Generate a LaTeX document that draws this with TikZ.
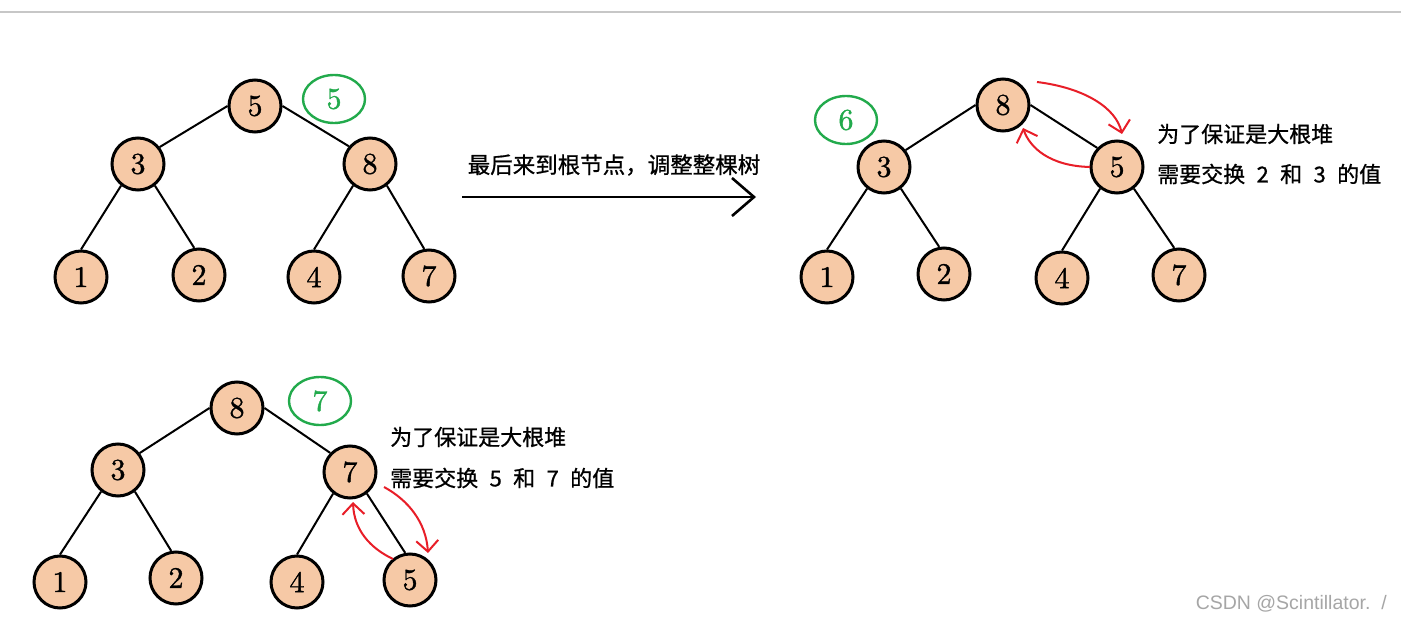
\documentclass[tikz,border=0pt]{standalone}
\usepackage{fontspec}
\newfontfamily\cjk[FakeBold=0.8]{Noto Sans CJK SC}
\newfontfamily\numfont[FakeBold=1.2]{lmroman10-regular.otf}
\newfontfamily\wmfont{Liberation Sans}
\usetikzlibrary{arrows.meta,shapes.geometric}
\definecolor{peach}{RGB}{246,201,166}
\definecolor{hgreen}{RGB}{34,170,76}
\definecolor{hred}{RGB}{232,30,40}
\newcommand\gapsp{\hspace{12pt}}
\newcommand\dg[1]{\makebox[11pt]{#1}}
\begin{document}
\begin{tikzpicture}[x=1pt,y=-1pt,
  hn/.style={circle,draw=black,line width=3pt,fill=peach,minimum size=52pt,inner sep=0pt,font=\numfont\fontsize{30}{32}\selectfont},
  gn/.style={ellipse,draw=hgreen,line width=2.4pt,minimum width=62pt,minimum height=48pt,inner sep=0pt,text=hgreen,font=\numfont\fontsize{30}{32}\selectfont},
  edge/.style={line width=2pt},
  swap/.style={hred,line width=2pt,-{Straight Barb[length=11pt,width=22pt]}},
  note/.style={anchor=west,font=\cjk\fontsize{22}{24}\selectfont,inner sep=0pt},
  bigarrow/.style={line width=2.6pt,-{Straight Barb[length=22pt,width=38pt]}},
]
\useasboundingbox (0,0) rectangle (1401,623);
\fill[white] (0,0) rectangle (1401,623);
\draw[black!22,line width=2.5pt] (0,12) -- (1401,12);

% ---------- tree A (top left)
\node[hn] (a5) at (255,106) {5};
\node[hn] (a3) at (138,164) {3};
\node[hn] (a8) at (370,164) {8};
\node[hn] (a1) at (81,277) {1};
\node[hn] (a2) at (199,275) {2};
\node[hn] (a4) at (314,277) {4};
\node[hn] (a7) at (429,276) {7};
\node[gn] (ag) at (334,99) {5};
\draw[edge] (a5.180) -- (a3.38);
\draw[edge] (a5.0) -- (a8.140);
\draw[edge] (a3.232) -- (a1.north);
\draw[edge] (a3.308) -- (a2.100);
\draw[edge] (a8.232) -- (a4.north);
\draw[edge] (a8.308) -- (a7.100);

% ---------- middle arrow
\node[font=\cjk\fontsize{22.5}{24}\selectfont,inner sep=0pt] (lbl) at (614,165) {最后来到根节点，调整整棵树};
\coordinate (arrS) at (462,197);
\coordinate (arrE) at (756,197);
\draw[bigarrow] (arrS) -- (arrE);

% ---------- tree B (top right)
\node[hn] (b8) at (1003,105) {8};
\node[hn] (b3) at (884,167) {3};
\node[hn] (b5) at (1117,167) {5};
\node[hn] (b1) at (827,277) {1};
\node[hn] (b2) at (944,274) {2};
\node[hn] (b4) at (1062,278) {4};
\node[hn] (b7) at (1179,275) {7};
\node[gn] (bg) at (846,120) {6};
\draw[edge] (b8.180) -- (b3.38);
\draw[edge] (b8.0) -- (b5.136);
\draw[edge] (b3.232) -- (b1.north);
\draw[edge] (b3.308) -- (b2.100);
\draw[edge] (b5.232) -- (b4.north);
\draw[edge] (b5.308) -- (b7.100);
\node[note] (bt1) at (1157,134) {为了保证是大根堆};
\node[note] (bt2) at (1157,174) {需要交换\gapsp\dg{2}\gapsp 和\gapsp\dg{3}\gapsp 的值};
\coordinate (br1s) at (1037,82);
\coordinate (br1e) at (1122,134);
\coordinate (br2s) at (1090,167);
\coordinate (br2e) at (1023,128);
\draw[swap] (br1s) .. controls (1085,88) and (1116,108) .. (br1e);
\draw[swap] (br2s) .. controls (1050,166) and (1030,148) .. (br2e);

% ---------- tree C (bottom)
\node[hn] (c8) at (237,408) {8};
\node[hn] (c3) at (118,470) {3};
\node[hn] (c7) at (350,472) {7};
\node[hn] (c1) at (60,582) {1};
\node[hn] (c2) at (176,578) {2};
\node[hn] (c4) at (297,582) {4};
\node[hn] (c5) at (410,580) {5};
\node[gn] (cg) at (320,401) {7};
\draw[edge] (c8.180) -- (c3.38);
\draw[edge] (c8.0) -- (c7.136);
\draw[edge] (c3.232) -- (c1.north);
\draw[edge] (c3.308) -- (c2.100);
\draw[edge] (c7.232) -- (c4.north);
\draw[edge] (c7.308) -- (c5.100);
\node[note] (ct1) at (390,437) {为了保证是大根堆};
\node[note] (ct2) at (390,478) {需要交换\gapsp\dg{5}\gapsp 和\gapsp\dg{7}\gapsp 的值};
\coordinate (cr1s) at (384,487);
\coordinate (cr1e) at (428,553);
\coordinate (cr2s) at (393,559);
\coordinate (cr2e) at (353,502);
\draw[swap] (cr1s) .. controls (408,500) and (426,522) .. (cr1e);
\draw[swap] (cr2s) .. controls (370,548) and (354,530) .. (cr2e);

% ---------- watermark
\node[anchor=east,inner sep=0pt,text=black!35,font=\wmfont\fontsize{19.5}{21}\selectfont] (wm) at (1387,604) {CSDN @Scintillator.\ \ /};
\end{tikzpicture}
\end{document}
